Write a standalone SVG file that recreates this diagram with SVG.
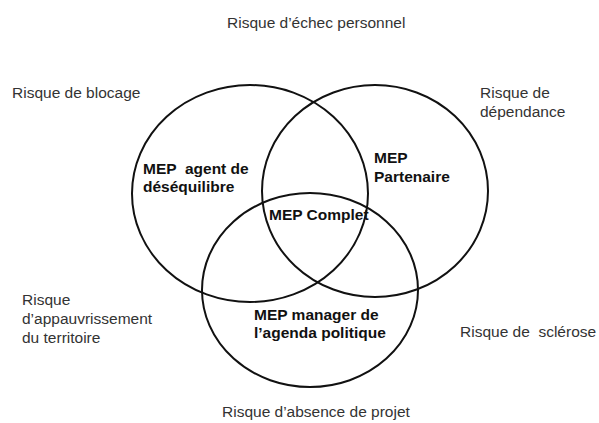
<svg xmlns="http://www.w3.org/2000/svg" width="599" height="423" viewBox="0 0 599 423">
  <style>
    .ring { fill: none; stroke: #111; stroke-width: 2; }
    .risk { font-family: "Liberation Sans", Arial, sans-serif; font-size: 15.5px; fill: #333; }
    .mep { font-family: "Liberation Sans", Arial, sans-serif; font-size: 15.5px; font-weight: bold; fill: #111; }
  </style>
  <rect width="599" height="423" fill="#fff"/>
  <g id="circle-agent">
    <ellipse class="ring" cx="250" cy="193.5" rx="118" ry="108.5"/>
    <text class="mep" x="143" y="174" xml:space="preserve">MEP  agent de</text>
    <text class="mep" x="143" y="192">déséquilibre</text>
  </g>
  <g id="circle-partenaire">
    <ellipse class="ring" cx="375" cy="191" rx="113" ry="106"/>
    <text class="mep" x="374" y="163">MEP</text>
    <text class="mep" x="374" y="182">Partenaire</text>
  </g>
  <g id="circle-manager">
    <ellipse class="ring" cx="310" cy="290" rx="108" ry="97"/>
    <text class="mep" x="254" y="320">MEP manager de</text>
    <text class="mep" x="254" y="338">l’agenda politique</text>
  </g>
  <g id="center-complet">
    <text class="mep" x="269" y="220">MEP Complet</text>
  </g>
  <g id="risk-echec">
    <text class="risk" x="227" y="28">Risque d’échec personnel</text>
  </g>
  <g id="risk-blocage">
    <text class="risk" x="12" y="98">Risque de blocage</text>
  </g>
  <g id="risk-dependance">
    <text class="risk" x="480" y="98">Risque de</text>
    <text class="risk" x="480" y="117">dépendance</text>
  </g>
  <g id="risk-appauvrissement">
    <text class="risk" x="22" y="305">Risque</text>
    <text class="risk" x="22" y="324">d’appauvrissement</text>
    <text class="risk" x="22" y="343">du territoire</text>
  </g>
  <g id="risk-sclerose">
    <text class="risk" x="460" y="337" xml:space="preserve">Risque de  sclérose</text>
  </g>
  <g id="risk-projet">
    <text class="risk" x="222" y="417">Risque d’absence de projet</text>
  </g>
</svg>
